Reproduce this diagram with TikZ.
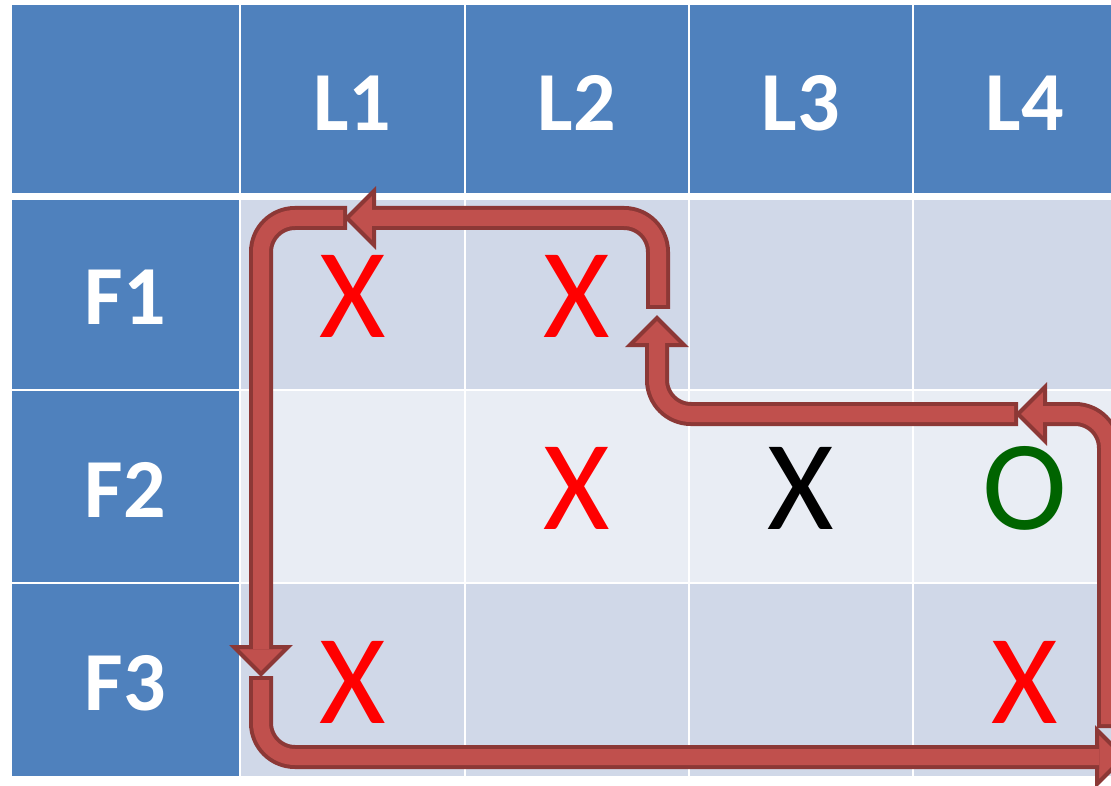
\documentclass[tikz,border=0pt]{standalone}
\usepackage{fontspec}
\setmainfont{Carlito}
\usetikzlibrary{calc}
\definecolor{hdrblue}{HTML}{4F81BD}
\definecolor{cellA}{HTML}{D0D8E8}
\definecolor{cellB}{HTML}{E9EDF4}
\definecolor{arrred}{HTML}{C0504D}
\definecolor{arrdark}{HTML}{8C3836}
\definecolor{okgreen}{HTML}{006400}
\definecolor{xred}{HTML}{FF0000}
\begin{document}
\begin{tikzpicture}[x=1pt,y=-1pt,
  cellbox/.style={draw=white,line width=2pt,inner sep=0pt},
  hdrtxt/.style={text=white,inner sep=0pt,font=\fontsize{84}{84}\selectfont\bfseries},
  symtxt/.style={inner sep=0pt,font=\fontsize{128}{128}\selectfont},
  headst/.style={fill=arrred,draw=arrdark,line width=4pt,line join=miter},
  shaftout/.style={draw=arrdark,line width=24pt,rounded corners=34pt,line cap=butt},
  shaftin/.style={draw=arrred,line width=16pt,rounded corners=34pt,line cap=butt,shorten <=4pt}]
\useasboundingbox (0,0) rectangle (1111,786);
\clip (0,0) rectangle (1111,786);
\fill[white] (0,0) rectangle (1111,786);
% header row
\node[cellbox,fill=hdrblue,minimum width=229pt,minimum height=190pt] (h0) at (125.5,99) {};
\node[cellbox,fill=hdrblue,minimum width=225pt,minimum height=190pt] (h1) at (352.5,99) {};
\node[cellbox,fill=hdrblue,minimum width=224pt,minimum height=190pt] (h2) at (577,99) {};
\node[cellbox,fill=hdrblue,minimum width=224pt,minimum height=190pt] (h3) at (801,99) {};
\node[cellbox,fill=hdrblue,minimum width=224pt,minimum height=190pt] (h4) at (1025,99) {};
% row F1
\node[cellbox,fill=hdrblue,minimum width=229pt,minimum height=191pt] (r1) at (125.5,294.5) {};
\node[cellbox,fill=cellA,minimum width=225pt,minimum height=191pt] (c11) at (352.5,294.5) {};
\node[cellbox,fill=cellA,minimum width=224pt,minimum height=191pt] (c12) at (577,294.5) {};
\node[cellbox,fill=cellA,minimum width=224pt,minimum height=191pt] (c13) at (801,294.5) {};
\node[cellbox,fill=cellA,minimum width=224pt,minimum height=191pt] (c14) at (1025,294.5) {};
% row F2
\node[cellbox,fill=hdrblue,minimum width=229pt,minimum height=193pt] (r2) at (125.5,486.5) {};
\node[cellbox,fill=cellB,minimum width=225pt,minimum height=193pt] (c21) at (352.5,486.5) {};
\node[cellbox,fill=cellB,minimum width=224pt,minimum height=193pt] (c22) at (577,486.5) {};
\node[cellbox,fill=cellB,minimum width=224pt,minimum height=193pt] (c23) at (801,486.5) {};
\node[cellbox,fill=cellB,minimum width=224pt,minimum height=193pt] (c24) at (1025,486.5) {};
% row F3
\node[cellbox,fill=hdrblue,minimum width=229pt,minimum height=194pt] (r3) at (125.5,680) {};
\node[cellbox,fill=cellA,minimum width=225pt,minimum height=194pt] (c31) at (352.5,680) {};
\node[cellbox,fill=cellA,minimum width=224pt,minimum height=194pt] (c32) at (577,680) {};
\node[cellbox,fill=cellA,minimum width=224pt,minimum height=194pt] (c33) at (801,680) {};
\node[cellbox,fill=cellA,minimum width=224pt,minimum height=194pt] (c34) at (1025,680) {};
% header texts
\node[hdrtxt] (tL1) at ($(h1.center)+(0,4)$) {L1};
\node[hdrtxt] (tL2) at ($(h2.center)+(0,4)$) {L2};
\node[hdrtxt] (tL3) at ($(h3.center)+(0,4)$) {L3};
\node[hdrtxt] (tL4) at ($(h4.center)+(0,4)$) {L4};
\node[hdrtxt] (tF1) at ($(r1.center)+(0,3)$) {F1};
\node[hdrtxt] (tF2) at ($(r2.center)+(0,3)$) {F2};
\node[hdrtxt] (tF3) at ($(r3.center)+(0,3)$) {F3};
% symbols
\node[symtxt,text=xred] (s11) at ($(c11.center)+(0,2)$) {X};
\node[symtxt,text=xred] (s12) at ($(c12.center)+(0,2)$) {X};
\node[symtxt,text=xred] (s22) at ($(c22.center)+(0,2)$) {X};
\node[symtxt,text=black] (s23) at ($(c23.center)+(0,2)$) {X};
\node[symtxt,text=okgreen] (s24) at ($(c24.center)+(0,2)$) {O};
\node[symtxt,text=xred] (s31) at ($(c31.center)+(0,2)$) {X};
\node[symtxt,text=xred] (s34) at ($(c34.center)+(0,2)$) {X};
% arrow path coordinates
\coordinate (eS) at (347,218); \coordinate (eK) at (261,218); \coordinate (eE) at (261,649);
\coordinate (aS) at (261,676); \coordinate (aK) at (261,757); \coordinate (aE) at (1099,757);
\coordinate (bS) at (1109,728); \coordinate (bK) at (1109,414); \coordinate (bE) at (1043,414);
\coordinate (cS) at (1018,414); \coordinate (cK) at (657,414); \coordinate (cE) at (657,343);
\coordinate (dS) at (658,309); \coordinate (dK) at (658,218); \coordinate (dE) at (372,218);
% heads
\filldraw[headst] (261,674) -- (234,647) -- (288,647) -- cycle;
\filldraw[headst] (1124,757) -- (1097,730) -- (1097,784) -- cycle;
\filldraw[headst] (1018,414) -- (1045,387) -- (1045,441) -- cycle;
\filldraw[headst] (657,318) -- (630,345) -- (684,345) -- cycle;
\filldraw[headst] (347,218) -- (374,191) -- (374,245) -- cycle;
% shafts
\foreach \p in {e,a,b,c,d}{
  \draw[shaftout] (\p S) -- (\p K) -- (\p E);
  \draw[shaftin] (\p S) -- (\p K) -- (\p E);
}
\end{tikzpicture}
\end{document}
